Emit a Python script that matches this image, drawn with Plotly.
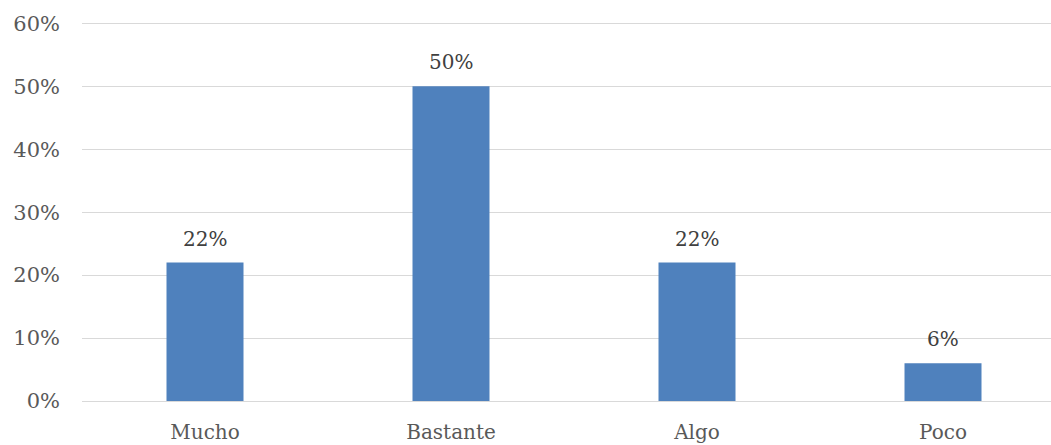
import plotly.graph_objects as go

categories = ["Mucho", "Bastante", "Algo", "Poco"]
values = [0.22, 0.50, 0.22, 0.06]
y_ticks = [0, 0.1, 0.2, 0.3, 0.4, 0.5, 0.6]
y_tick_labels = ["0%", "10%", "20%", "30%", "40%", "50%", "60%"]

FONT = "DejaVu Serif"

fig = go.Figure(
    go.Bar(
        x=categories,
        y=values,
        marker=dict(color="#4F81BD", line=dict(width=0)),
        width=0.313,
        cliponaxis=False,
    )
)

for c, v in zip(categories, values):
    fig.add_annotation(
        x=c, y=v, text=f"{v:.0%}", showarrow=False,
        yanchor="bottom", yshift=10,
        font=dict(family=FONT, size=20, color="#404040"),
    )

fig.update_layout(
    width=1051,
    height=445,
    margin=dict(l=82, r=0, t=17, b=44, autoexpand=False),
    plot_bgcolor="white",
    paper_bgcolor="white",
    showlegend=False,
    font=dict(family=FONT, size=20, color="#595959"),
    xaxis=dict(
        range=[-0.5, 3.439],
        automargin=False,
        showgrid=False,
        showline=False,
        ticks="",
        ticklabelstandoff=17,
        tickfont=dict(family=FONT, size=20, color="#595959"),
    ),
    yaxis=dict(
        range=[0, 0.61],
        automargin=False,
        tickvals=y_ticks,
        ticktext=y_tick_labels,
        showgrid=True,
        gridcolor="#D9D9D9",
        gridwidth=1.3,
        zeroline=True,
        zerolinecolor="#D9D9D9",
        zerolinewidth=1.3,
        showline=False,
        ticks="",
        ticklabelstandoff=21,
        tickfont=dict(family=FONT, size=21, color="#595959"),
    ),
)

fig.write_html(
    "out.html",
    config={"displayModeBar": False},
    post_script="document.body.style.margin='0';document.body.style.overflow='hidden';",
)
